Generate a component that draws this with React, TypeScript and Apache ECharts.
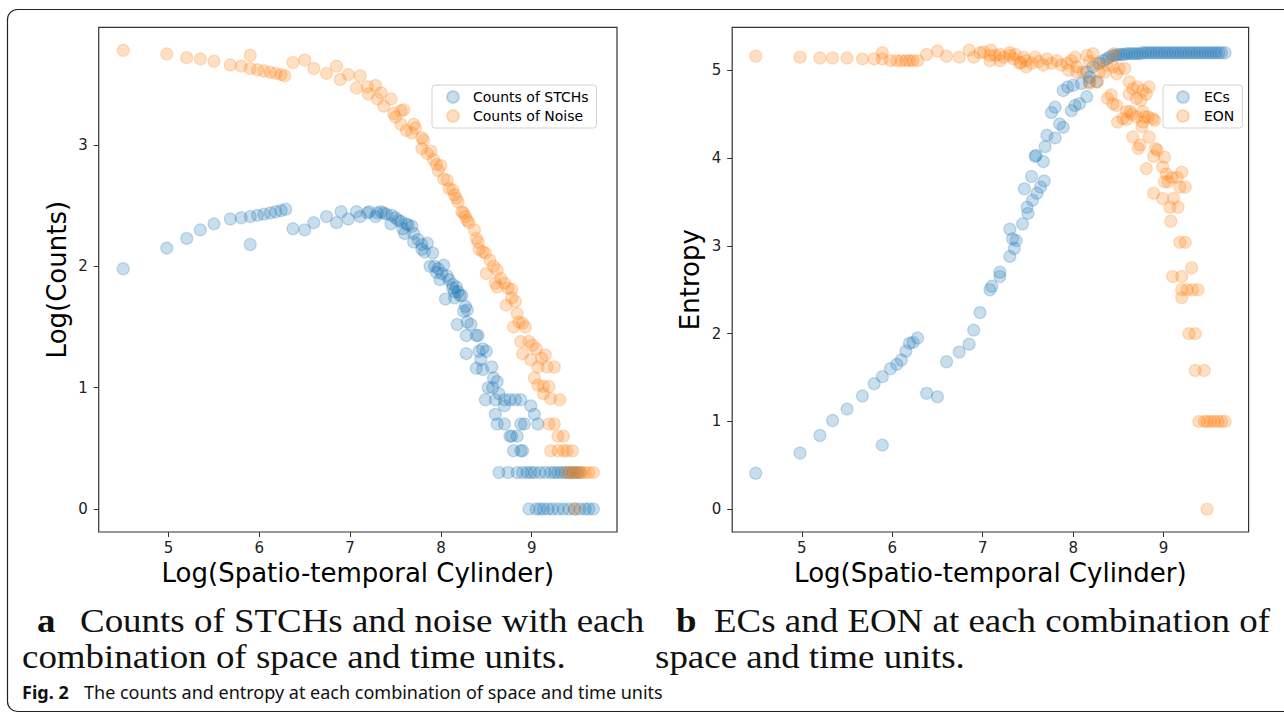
import React, { useEffect, useRef } from "react";
import * as echarts from "echarts";

// ---- data ----
const xTicks = [5, 6, 7, 8, 9];
const countTicks = [0, 1, 2, 3];
const entropyTicks = [0, 1, 2, 3, 4, 5];

const stchPoints: number[][] = [
  [4.50, 1.98], [4.98, 2.15], [5.20, 2.23], [5.35, 2.30], [5.50, 2.35], [5.68, 2.39], [5.80, 2.40],
  [5.90, 2.18], [5.90, 2.41], [5.98, 2.42], [6.05, 2.43], [6.12, 2.44], [6.18, 2.45], [6.24, 2.46],
  [6.29, 2.47], [6.37, 2.31], [6.50, 2.30], [6.60, 2.36], [6.74, 2.41], [6.85, 2.36], [6.90, 2.45],
  [6.98, 2.39], [7.07, 2.45], [7.11, 2.41], [7.19, 2.44], [7.21, 2.45], [7.28, 2.41], [7.30, 2.44],
  [7.34, 2.45], [7.37, 2.44], [7.40, 2.43], [7.45, 2.35], [7.46, 2.42], [7.50, 2.40], [7.53, 2.38],
  [7.56, 2.37], [7.58, 2.31], [7.60, 2.27], [7.62, 2.35], [7.64, 2.34], [7.68, 2.33], [7.70, 2.27],
  [7.70, 2.20], [7.75, 2.22], [7.79, 2.18], [7.79, 2.14], [7.82, 2.12], [7.85, 2.19], [7.88, 2.00],
  [7.91, 2.11], [7.93, 2.00], [7.95, 1.95], [7.97, 1.98], [7.99, 1.89], [8.01, 1.94], [8.03, 2.01],
  [8.05, 1.73], [8.07, 1.92], [8.09, 1.89], [8.13, 1.85], [8.13, 1.82], [8.15, 1.79], [8.15, 1.74],
  [8.17, 1.83], [8.19, 1.79], [8.21, 1.76], [8.23, 1.76], [8.18, 1.52], [8.25, 1.63], [8.27, 1.67],
  [8.29, 1.64], [8.29, 1.54], [8.33, 1.52], [8.28, 1.43], [8.39, 1.43], [8.41, 1.43], [8.28, 1.28],
  [8.42, 1.30], [8.46, 1.32], [8.50, 1.30], [8.44, 1.23], [8.39, 1.16], [8.46, 1.15], [8.56, 1.17],
  [8.58, 1.08], [8.62, 1.05], [8.52, 1.00], [8.57, 1.00], [8.64, 0.95], [8.49, 0.90], [8.60, 0.90],
  [8.70, 0.90], [8.76, 0.90], [8.82, 0.90], [8.88, 0.90], [8.70, 0.85], [8.99, 0.85], [9.03, 0.78],
  [8.60, 0.78], [8.62, 0.70], [8.70, 0.70], [8.88, 0.70], [8.92, 0.70], [9.07, 0.70], [8.76, 0.60],
  [8.78, 0.60], [8.84, 0.60], [8.80, 0.48], [8.88, 0.48], [8.90, 0.48],
  [8.64, 0.30], [8.74, 0.30], [8.84, 0.30], [8.90, 0.30], [8.95, 0.30], [8.99, 0.30], [9.03, 0.30],
  [9.09, 0.30], [9.15, 0.30], [9.21, 0.30], [9.25, 0.30], [9.29, 0.30], [9.33, 0.30], [9.37, 0.30],
  [9.41, 0.30], [9.45, 0.30], [9.49, 0.30], [9.53, 0.30],
  [8.97, 0.00], [9.05, 0.00], [9.09, 0.00], [9.13, 0.00], [9.18, 0.00], [9.23, 0.00], [9.29, 0.00],
  [9.35, 0.00], [9.41, 0.00], [9.47, 0.00], [9.53, 0.00], [9.59, 0.00], [9.63, 0.00], [9.68, 0.00],
];

const noisePoints: number[][] = [
  [4.50, 3.78], [4.98, 3.75], [5.20, 3.72], [5.35, 3.71], [5.50, 3.69], [5.68, 3.66], [5.80, 3.65],
  [5.90, 3.74], [5.90, 3.63], [5.98, 3.62], [6.05, 3.61], [6.12, 3.60], [6.18, 3.59], [6.24, 3.58],
  [6.28, 3.57], [6.37, 3.68], [6.50, 3.70], [6.60, 3.63], [6.74, 3.59], [6.85, 3.65], [6.89, 3.54],
  [6.98, 3.58], [7.07, 3.47], [7.11, 3.57], [7.19, 3.48], [7.20, 3.42], [7.28, 3.49], [7.30, 3.38],
  [7.34, 3.43], [7.37, 3.32], [7.45, 3.38], [7.48, 3.26], [7.50, 3.23], [7.56, 3.28], [7.59, 3.29],
  [7.56, 3.17], [7.62, 3.12], [7.68, 3.10], [7.70, 3.17], [7.72, 3.14], [7.79, 3.06], [7.81, 3.04],
  [7.79, 2.97], [7.85, 2.93], [7.89, 2.95], [7.92, 2.88], [7.95, 2.84], [7.97, 2.79], [8.00, 2.83],
  [8.03, 2.72], [8.07, 2.71], [8.09, 2.64], [8.13, 2.63], [8.15, 2.59], [8.17, 2.56], [8.19, 2.53],
  [8.23, 2.45], [8.25, 2.44], [8.27, 2.41], [8.29, 2.38], [8.31, 2.36], [8.37, 2.30], [8.39, 2.23],
  [8.41, 2.20], [8.42, 2.14], [8.46, 2.12], [8.49, 2.11], [8.50, 1.94], [8.54, 2.05], [8.58, 2.00],
  [8.62, 1.97], [8.60, 1.86], [8.66, 1.90], [8.70, 1.86], [8.62, 1.83], [8.74, 1.82], [8.78, 1.81],
  [8.72, 1.68], [8.78, 1.74], [8.82, 1.71], [8.84, 1.61], [8.80, 1.50], [8.86, 1.54], [8.90, 1.53],
  [8.93, 1.50], [8.88, 1.38], [8.97, 1.38], [9.01, 1.35], [8.90, 1.28], [8.99, 1.23], [9.05, 1.32],
  [9.11, 1.24], [9.15, 1.27], [9.17, 1.17], [9.25, 1.17], [9.07, 1.17], [9.03, 1.08], [9.07, 1.02],
  [9.13, 1.01], [9.19, 1.01], [9.13, 0.95], [9.21, 0.91], [9.31, 0.90], [9.19, 0.70], [9.25, 0.70],
  [9.29, 0.60], [9.35, 0.60], [9.21, 0.48], [9.29, 0.48], [9.35, 0.48], [9.39, 0.48], [9.45, 0.48],
  [9.39, 0.30], [9.43, 0.30], [9.47, 0.30], [9.51, 0.30], [9.55, 0.30], [9.59, 0.30], [9.63, 0.30],
  [9.68, 0.30], [9.48, 0.00],
];

const ecsPoints: number[][] = [
  [4.49, 0.41], [4.98, 0.64], [5.20, 0.84], [5.34, 1.01], [5.50, 1.14], [5.67, 1.29], [5.80, 1.43],
  [5.89, 1.51], [5.89, 0.73], [5.98, 1.60], [6.05, 1.65], [6.10, 1.70], [6.15, 1.80], [6.19, 1.89],
  [6.23, 1.90], [6.28, 1.95], [6.38, 1.32], [6.50, 1.28], [6.60, 1.68], [6.74, 1.79], [6.85, 1.88],
  [6.90, 2.04], [6.97, 2.24], [7.08, 2.50], [7.10, 2.54], [7.19, 2.65], [7.19, 2.70], [7.30, 2.88],
  [7.35, 2.97], [7.30, 3.19], [7.37, 3.06], [7.33, 3.08], [7.44, 3.25], [7.50, 3.37], [7.49, 3.44],
  [7.55, 3.52], [7.46, 3.65], [7.60, 3.60], [7.64, 3.67], [7.68, 3.74], [7.54, 3.79], [7.67, 3.96],
  [7.58, 4.02], [7.59, 4.03], [7.69, 4.13], [7.80, 4.23], [7.71, 4.26], [7.89, 4.35], [7.85, 4.39],
  [7.76, 4.52], [7.80, 4.58], [7.98, 4.54], [8.02, 4.60], [8.07, 4.62], [8.15, 4.70], [7.89, 4.77],
  [7.94, 4.81], [8.00, 4.83], [8.09, 4.85], [8.18, 4.87], [8.26, 4.87], [8.18, 4.92], [8.15, 4.98],
  [8.22, 5.04], [8.29, 5.08], [8.33, 5.11], [8.37, 5.13], [8.40, 5.15], [8.44, 5.17], [8.47, 5.17],
  [8.50, 5.18], [8.53, 5.18], [8.56, 5.18], [8.59, 5.19], [8.62, 5.19], [8.65, 5.19], [8.68, 5.19],
  [8.71, 5.19], [8.74, 5.19], [8.77, 5.20], [8.80, 5.20], [8.83, 5.20], [8.86, 5.20], [8.89, 5.20],
  [8.92, 5.20], [8.95, 5.20], [8.98, 5.20], [9.01, 5.20], [9.04, 5.20], [9.07, 5.20], [9.10, 5.20],
  [9.13, 5.20], [9.16, 5.20], [9.19, 5.20], [9.22, 5.20], [9.25, 5.20], [9.28, 5.20], [9.31, 5.20],
  [9.34, 5.20], [9.37, 5.20], [9.40, 5.20], [9.43, 5.20], [9.46, 5.20], [9.49, 5.20], [9.52, 5.20],
  [9.55, 5.20], [9.58, 5.20], [9.61, 5.20], [9.64, 5.20], [9.68, 5.20],
];

const eonPoints: number[][] = [
  [4.49, 5.16], [4.98, 5.15], [5.20, 5.14], [5.34, 5.14], [5.50, 5.14], [5.67, 5.13], [5.80, 5.13],
  [5.89, 5.20], [5.89, 5.13], [5.98, 5.11], [6.05, 5.11], [6.10, 5.11], [6.15, 5.11], [6.19, 5.11],
  [6.23, 5.11], [6.28, 5.11], [6.38, 5.18], [6.50, 5.22], [6.60, 5.16], [6.74, 5.15], [6.85, 5.23],
  [6.90, 5.15], [6.97, 5.20], [7.01, 5.21], [7.08, 5.11], [7.09, 5.23], [7.08, 5.17], [7.14, 5.17],
  [7.19, 5.11], [7.19, 5.18], [7.23, 5.15], [7.30, 5.20], [7.30, 5.17], [7.34, 5.13], [7.36, 5.18],
  [7.41, 5.08], [7.42, 5.09], [7.45, 5.15], [7.48, 5.11], [7.48, 5.04], [7.54, 5.08], [7.58, 5.15],
  [7.62, 5.10], [7.67, 5.06], [7.71, 5.13], [7.76, 5.08], [7.82, 5.11], [7.87, 5.06], [7.93, 5.08],
  [7.95, 5.00], [7.98, 5.11], [8.02, 5.15], [8.04, 5.04], [8.04, 4.98], [8.11, 4.98], [8.15, 5.17],
  [8.18, 5.10], [8.22, 5.19], [8.26, 5.08], [8.29, 4.98], [8.18, 4.85], [8.27, 4.87], [8.37, 5.06],
  [8.35, 4.98], [8.44, 5.04], [8.48, 4.96], [8.51, 5.02], [8.57, 5.02], [8.45, 5.19], [8.62, 4.87],
  [8.66, 4.79], [8.71, 4.81], [8.77, 4.77], [8.84, 4.81], [8.81, 4.73], [8.62, 4.73], [8.70, 4.68],
  [8.75, 4.66], [8.38, 4.68], [8.42, 4.72], [8.44, 4.62], [8.48, 4.60], [8.59, 4.53], [8.63, 4.53],
  [8.55, 4.45], [8.59, 4.44], [8.49, 4.41], [8.65, 4.50], [8.70, 4.47], [8.77, 4.53], [8.79, 4.47],
  [8.83, 4.47], [8.88, 4.45], [8.90, 4.43], [8.77, 4.41], [8.76, 4.36], [8.66, 4.24], [8.84, 4.24],
  [8.72, 4.11], [8.74, 4.15], [8.91, 4.11], [8.93, 4.09], [8.89, 4.02], [9.01, 4.01], [8.81, 3.88],
  [8.99, 3.90], [9.03, 3.82], [9.09, 3.78], [9.15, 3.78], [9.20, 3.84], [9.01, 3.73], [9.05, 3.73],
  [9.18, 3.67], [9.24, 3.67], [8.89, 3.60], [8.99, 3.54], [9.11, 3.54], [9.07, 3.44], [9.16, 3.44],
  [9.08, 3.28], [9.18, 3.04], [9.24, 3.04], [9.10, 2.65], [9.20, 2.65], [9.31, 2.75], [9.20, 2.50],
  [9.26, 2.50], [9.32, 2.50], [9.38, 2.50], [9.20, 2.41], [9.28, 2.00], [9.35, 2.00], [9.35, 1.58],
  [9.45, 1.58], [9.39, 1.00], [9.45, 1.00], [9.48, 1.00], [9.52, 1.00], [9.56, 1.00], [9.60, 1.00],
  [9.64, 1.00], [9.68, 1.00], [9.48, 0.00],
];

const seriesNames = ["Counts of STCHs", "Counts of Noise", "ECs", "EON"];
const captionA = ["a", "Counts of STCHs and noise with each", "combination of space and time units."];
const captionB = ["b", "ECs and EON at each combination of", "space and time units."];
const figLabel = "Fig. 2";
const figCaption = "The counts and entropy at each combination of space and time units";

const BLUE = "rgba(31,119,180,0.3)";
const ORANGE = "rgba(255,127,14,0.3)";
const AXIS = "#333";
const SANS = "DejaVu Sans";
const SERIF = "Liberation Serif";

function makeX(gridIndex: number) {
  return {
    type: "value",
    gridIndex,
    min: 4.23,
    max: 9.94,
    name: "Log(Spatio-temporal Cylinder)",
    nameLocation: "middle",
    nameGap: 27,
    nameTextStyle: { fontSize: 26, color: "#000", fontFamily: SANS },
    axisLine: { show: false, onZero: false },
    axisTick: { show: true, inside: false, length: 5, customValues: xTicks, lineStyle: { color: AXIS, width: 1 } },
    axisLabel: { customValues: xTicks, fontSize: 15, color: "#222", margin: 8, fontFamily: SANS },
    splitLine: { show: false },
  };
}

function makeY(gridIndex: number, name: string, min: number, max: number, ticks: number[]) {
  return {
    type: "value",
    gridIndex,
    min,
    max,
    name,
    nameLocation: "middle",
    nameGap: 29,
    nameTextStyle: { fontSize: 26, color: "#000", fontFamily: SANS },
    axisLine: { show: false, onZero: false },
    axisTick: { show: true, inside: false, length: 5, customValues: ticks, lineStyle: { color: AXIS, width: 1 } },
    axisLabel: { customValues: ticks, fontSize: 15, color: "#222", margin: 11, fontFamily: SANS },
    splitLine: { show: false },
  };
}

function makeSeries(name: string, data: number[][], color: string, idx: number) {
  return {
    type: "scatter",
    name,
    xAxisIndex: idx,
    yAxisIndex: idx,
    data,
    symbol: "circle",
    symbolSize: 12,
    itemStyle: { color, borderColor: color, borderWidth: 1.2 },
    emphasis: { disabled: true },
  };
}

function makeLegend(names: string[], left: number, padLeft: number, textPad: number) {
  return {
    data: names,
    orient: "vertical",
    left,
    top: 85,
    icon: "circle",
    itemWidth: 12,
    itemHeight: 12,
    itemGap: 5,
    padding: [5, 8, 5, padLeft],
    borderColor: "#d2d2d2",
    borderWidth: 1,
    borderRadius: 3,
    backgroundColor: "#fff",
    selectedMode: false,
    textStyle: { fontSize: 14, color: "#000", fontFamily: SANS, padding: [0, 0, 0, textPad] },
  };
}

export default function App() {
  const ref = useRef<HTMLDivElement>(null);

  useEffect(() => {
    if (!ref.current) return;
    const chart = echarts.init(ref.current, null, { renderer: "svg" });
    const serifText = (x: number, y: number, text: string, bold = false) => ({
      type: "text",
      x,
      y,
      scaleX: 1.12,
      silent: true,
      style: {
        text,
        fontFamily: SERIF,
        fontSize: 33,
        fontWeight: bold ? "bold" : "normal",
        fill: "#111",
        verticalAlign: "middle",
        align: "left",
      },
    });
    chart.setOption({
      animation: false,
      backgroundColor: "#fff",
      textStyle: { fontFamily: SANS },
      grid: [
        { left: 98.7, top: 27.3, width: 518.3, height: 504.7, show: true, borderColor: AXIS, borderWidth: 1.2, backgroundColor: "transparent" },
        { left: 732.2, top: 27.3, width: 516.4, height: 504.7, show: true, borderColor: AXIS, borderWidth: 1.2, backgroundColor: "transparent" },
      ],
      xAxis: [makeX(0), makeX(1)],
      yAxis: [
        makeY(0, "Log(Counts)", -0.19, 3.97, countTicks),
        makeY(1, "Entropy", -0.26, 5.49, entropyTicks),
      ],
      legend: [
        makeLegend([seriesNames[0], seriesNames[1]], 432, 14, 9),
        makeLegend([seriesNames[2], seriesNames[3]], 1163, 13, 10),
      ],
      series: [
        makeSeries(seriesNames[0], stchPoints, BLUE, 0),
        makeSeries(seriesNames[1], noisePoints, ORANGE, 0),
        makeSeries(seriesNames[2], ecsPoints, BLUE, 1),
        makeSeries(seriesNames[3], eonPoints, ORANGE, 1),
      ],
      graphic: [
        {
          type: "rect",
          silent: true,
          z: -10,
          shape: { x: 7.5, y: 9.5, width: 1320, height: 702, r: 10 },
          style: { fill: "none", stroke: "#222", lineWidth: 1.2 },
        },
        serifText(37, 621, captionA[0], true),
        serifText(80, 621, captionA[1]),
        serifText(22, 657, captionA[2]),
        serifText(676, 621, captionB[0], true),
        serifText(714, 621, captionB[1]),
        serifText(655, 657, captionB[2]),
        {
          type: "text",
          x: 22,
          y: 692,
          silent: true,
          style: { text: figLabel, fontFamily: "Noto Sans", fontSize: 18, fontWeight: "bold", fill: "#111", verticalAlign: "middle" },
        },
        {
          type: "text",
          x: 84,
          y: 692,
          silent: true,
          style: { text: figCaption, fontFamily: "Noto Sans", fontSize: 18, fill: "#111", verticalAlign: "middle" },
        },
      ],
    });
    return () => chart.dispose();
  }, []);

  return (
    <div
      ref={ref}
      style={{ position: "absolute", left: 0, top: 0, width: 1284, height: 713, background: "#fff" }}
    />
  );
}
